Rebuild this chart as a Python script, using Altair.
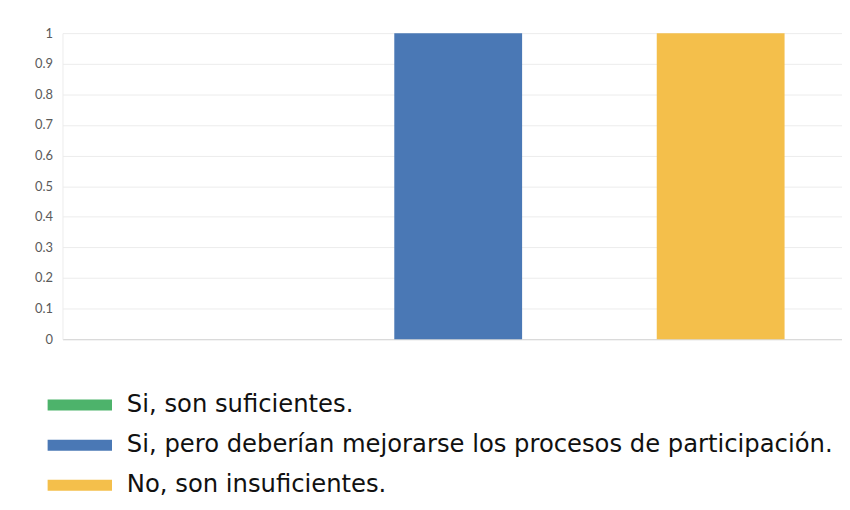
import altair as alt
import pandas as pd

categories = ["Si, son suficientes.",
              "Si, pero deberían mejorarse los procesos de participación.",
              "No, son insuficientes."]
values = [0, 1, 1]
colors = ["#4db36b", "#4a78b5", "#f4bf4b"]
y_ticks = [0, 0.1, 0.2, 0.3, 0.4, 0.5, 0.6, 0.7, 0.8, 0.9, 1]

df = pd.DataFrame({"cat": categories, "val": values})

sym = "M-2,-0.34L2,-0.34L2,0.34L-2,0.34Z"

chart = alt.Chart(df).mark_bar().encode(
    x=alt.X("cat:N", sort=categories, title=None,
            scale=alt.Scale(paddingInner=0.513, paddingOuter=0.2415, align=0.547),
            axis=alt.Axis(labels=False, ticks=False, domainColor="#d4d4d4", grid=False)),
    y=alt.Y("val:Q", title=None,
            scale=alt.Scale(domain=[0, 1], nice=False),
            axis=alt.Axis(values=y_ticks, ticks=False, domain=True, domainColor="#ececec",
                          gridColor="#ececec", labelColor="#5a5a5a", labelFontSize=13,
                          labelFont="Lato", labelPadding=10,
                          labelExpr="datum.value == 0 ? '0' : datum.value == 1 ? '1' : format(datum.value, '.1f')")),
    color=alt.Color("cat:N", sort=categories,
                    scale=alt.Scale(domain=categories, range=colors),
                    legend=alt.Legend(title=None, orient="none", legendX=1, legendY=359,
                                      symbolType=sym, symbolSize=1056, symbolStrokeWidth=0,
                                      labelFont="DejaVu Sans", labelFontSize=24.5, labelColor="#111111",
                                      labelLimit=900, rowPadding=12.5, labelOffset=31)),
).properties(
    width=787, height=309,
    autosize=alt.AutoSizeParams(type="none"),
    padding={"left": 55, "top": 23, "right": 0, "bottom": 162},
).configure_view(stroke=None)

chart.save("out.html", embed_options={"renderer": "svg", "actions": False})
